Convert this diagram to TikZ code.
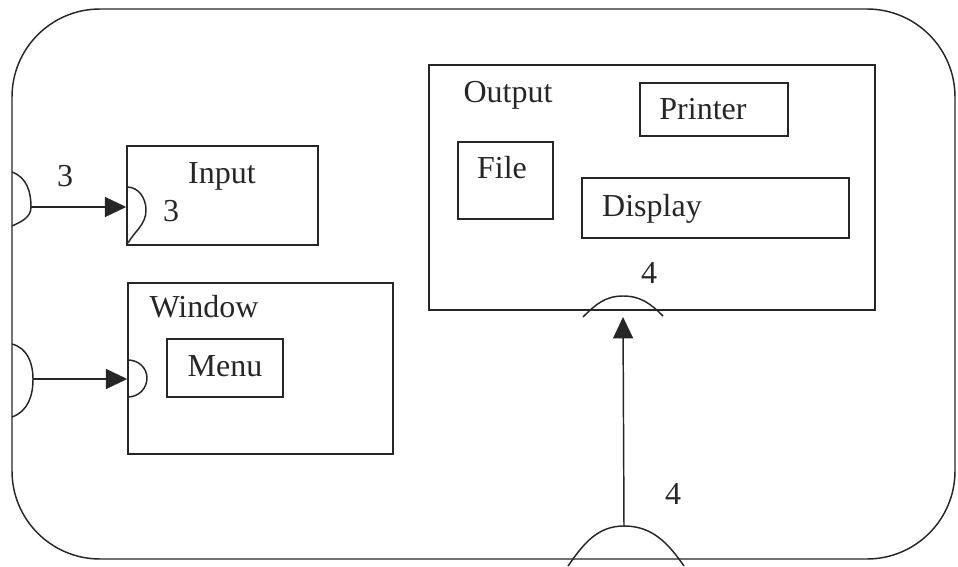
\documentclass[tikz,border=0pt]{standalone}
\usepackage{fontspec}
\setmainfont{Liberation Serif}
\usetikzlibrary{arrows.meta}
\begin{document}
\begin{tikzpicture}[x=0.75pt,y=-0.75pt,
  line width=1.1pt, draw=black!85,
  box/.style={draw=black!85, line width=1.1pt, rectangle, inner sep=0pt},
  lbl/.style={anchor=base, inner sep=0pt, font=\fontsize{24}{28}\selectfont, text=black!85},
  arr/.style={-{Triangle[length=16pt,width=15pt]}, line width=1.1pt, draw=black!85, fill=black!85}]
\useasboundingbox (0,0) rectangle (958,567);
% outer frame
\draw[rounded corners=66pt] (12,9) rectangle (955,559);
% boxes
\node[box, minimum width=143.25pt, minimum height=74.25pt] (input) at (222.5,195.5) {};
\node[box, minimum width=198.75pt, minimum height=128.25pt] (window) at (260.5,368.5) {};
\node[box, minimum width=87pt, minimum height=43.5pt] (menu) at (225,368) {};
\node[box, minimum width=334.5pt, minimum height=183.75pt] (output) at (652,187.5) {};
\node[box, minimum width=111pt, minimum height=39.75pt] (printer) at (714,109.5) {};
\node[box, minimum width=71.25pt, minimum height=57.75pt] (file) at (505.5,180.5) {};
\node[box, minimum width=200.25pt, minimum height=45pt] (display) at (715.5,208) {};
% texts
\node[lbl] (tInput) at (222,184) {Input};
\node[lbl] (tIn3) at (171,221) {3};
\node[lbl] (tL3) at (65,186) {3};
\node[lbl] (tWindow) at (204,317) {Window};
\node[lbl] (tMenu) at (225,376) {Menu};
\node[lbl] (tOutput) at (508,103) {Output};
\node[lbl] (tPrinter) at (703,120) {Printer};
\node[lbl] (tFile) at (502,179) {File};
\node[lbl] (tDisplay) at (652,216) {Display};
\node[lbl] (t4a) at (649,283) {4};
\node[lbl] (t4b) at (673,504) {4};
% input interface arcs
\coordinate (iA1) at (12,172);
\coordinate (iP) at (31,207);
\coordinate (iA2) at (12,226);
\draw (iA1) to[out=-20,in=90] (iP) to[out=-90,in=25] (iA2);
\coordinate (iB1) at (127,187);
\coordinate (iQ) at (146,210);
\coordinate (iB2) at (128,243);
\draw (iB1) to[out=0,in=90] (iQ) to[out=-90,in=60] (iB2);
\draw[arr] (iP) -- (iP -| input.west);
% window interface arcs
\coordinate (wA1) at (12,344);
\coordinate (wP) at (33,379);
\coordinate (wA2) at (12,417);
\draw (wA1) to[out=-15,in=90] (wP) to[out=-90,in=20] (wA2);
\coordinate (wB1) at (128,360);
\coordinate (wQ) at (147,378);
\coordinate (wB2) at (128,397);
\draw (wB1) to[out=0,in=90] (wQ) to[out=-90,in=0] (wB2);
\draw[arr] (wP) -- (wP -| window.west);
% output interface arcs
\coordinate (oA1) at (583,317);
\coordinate (oP) at (623,296);
\coordinate (oA2) at (663,316);
\draw (oA1) to[out=45,in=180] (oP) to[out=0,in=135] (oA2);
\coordinate (bA1) at (568,566);
\coordinate (bP) at (624,526);
\coordinate (bA2) at (684,566);
\draw (bA1) to[out=55,in=180] (bP) to[out=0,in=125] (bA2);
\coordinate (oTip) at (623,317);
\draw[arr] (bP) -- (oTip);
\end{tikzpicture}
\end{document}
